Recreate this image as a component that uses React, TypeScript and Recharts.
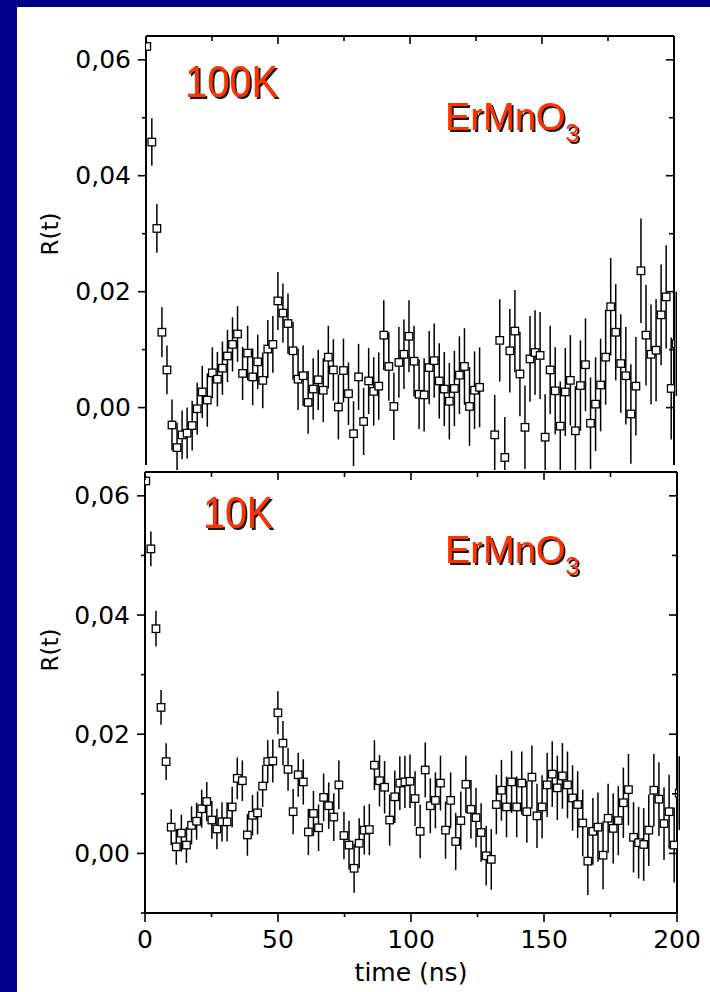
import React from 'react'
import { ScatterChart, Scatter, XAxis, YAxis, ErrorBar } from 'recharts'

// time bins (ns)
const timeNs = [
  0.3, 2.21, 4.12, 6.03, 7.94, 9.85, 11.76, 13.67, 15.58, 17.49,
  19.4, 21.31, 23.22, 25.13, 27.04, 28.95, 30.86, 32.77, 34.68, 36.59,
  38.5, 40.41, 42.32, 44.23, 46.14, 48.05, 49.96, 51.87, 53.78, 55.69,
  57.6, 59.51, 61.42, 63.33, 65.24, 67.15, 69.06, 70.97, 72.88, 74.79,
  76.7, 78.61, 80.52, 82.43, 84.34, 86.25, 88.16, 90.07, 91.98, 93.89,
  95.8, 97.71, 99.62, 101.53, 103.44, 105.35, 107.26, 109.17, 111.08, 112.99,
  114.9, 116.81, 118.72, 120.63, 122.54, 124.45, 126.36, 128.27, 130.18, 132.09,
  134.0, 135.91, 137.82, 139.73, 141.64, 143.55, 145.46, 147.37, 149.28, 151.19,
  153.1, 155.01, 156.92, 158.83, 160.74, 162.65, 164.56, 166.47, 168.38, 170.29,
  172.2, 174.11, 176.02, 177.93, 179.84, 181.75, 183.66, 185.57, 187.48, 189.39,
  191.3, 193.21, 195.12, 197.03, 198.94, 200.85,
]

// R(t) at 100K
const r100K = [
  0.0623, 0.0458, 0.0309, 0.0130, 0.0065, -0.0030, -0.0069, -0.0047, -0.0044, -0.0031,
  -0.0002, 0.0027, 0.0013, 0.0060, 0.0049, 0.0068, 0.0089, 0.0109, 0.0127, 0.0059,
  0.0094, 0.0053, 0.0079, 0.0047, 0.0101, 0.0109, 0.0184, 0.0163, 0.0145, 0.0098,
  0.0049, 0.0055, 0.0009, 0.0032, 0.0048, 0.0030, 0.0087, 0.0065, 0.0001, 0.0064,
  0.0024, -0.0045, 0.0053, -0.0024, 0.0046, 0.0028, 0.0037, 0.0125, 0.0071, 0.0002,
  0.0078, 0.0092, 0.0123, 0.0080, 0.0023, 0.0022, 0.0069, 0.0081, 0.0046, 0.0032,
  0.0011, 0.0033, 0.0056, 0.0071, 0.0002, 0.0030, 0.0035, -0.0190, -0.0180, -0.0047,
  0.0116, -0.0086, 0.0098, 0.0132, 0.0058, -0.0034, 0.0084, 0.0095, 0.0090, -0.0051,
  0.0065, 0.0029, -0.0032, 0.0027, 0.0047, -0.0040, 0.0038, 0.0074, -0.0027, 0.0006,
  0.0039, 0.0087, 0.0174, 0.0130, 0.0076, 0.0055, -0.0011, 0.0037, 0.0236, 0.0125,
  0.0092, 0.0099, 0.0160, 0.0191, 0.0033, 0.0110,
]
const err100K = [
  0.0008, 0.0041, 0.0042, 0.0043, 0.0042, 0.0044, 0.0043, 0.0042, 0.0044, 0.0043,
  0.0045, 0.0045, 0.0046, 0.0044, 0.0047, 0.0046, 0.0045, 0.0047, 0.0048, 0.0046,
  0.0047, 0.0049, 0.0047, 0.0048, 0.0050, 0.0049, 0.0050, 0.0051, 0.0052, 0.0050,
  0.0053, 0.0052, 0.0054, 0.0053, 0.0052, 0.0055, 0.0054, 0.0053, 0.0056, 0.0055,
  0.0054, 0.0056, 0.0057, 0.0058, 0.0057, 0.0059, 0.0058, 0.0060, 0.0059, 0.0058,
  0.0061, 0.0060, 0.0062, 0.0061, 0.0060, 0.0063, 0.0063, 0.0064, 0.0065, 0.0064,
  0.0066, 0.0065, 0.0067, 0.0066, 0.0068, 0.0067, 0.0069, 0.0068, 0.0070, 0.0069,
  0.0071, 0.0070, 0.0072, 0.0071, 0.0073, 0.0072, 0.0074, 0.0073, 0.0075, 0.0074,
  0.0076, 0.0075, 0.0077, 0.0076, 0.0078, 0.0077, 0.0078, 0.0080, 0.0079, 0.0081,
  0.0080, 0.0082, 0.0084, 0.0083, 0.0085, 0.0084, 0.0086, 0.0085, 0.0090, 0.0087,
  0.0086, 0.0088, 0.0087, 0.0089, 0.0088, 0.0090,
]

// R(t) at 10K
const r10K = [
  0.0625, 0.0511, 0.0377, 0.0245, 0.0154, 0.0044, 0.0011, 0.0034, 0.0014, 0.0047,
  0.0054, 0.0075, 0.0087, 0.0056, 0.0041, 0.0053, 0.0053, 0.0078, 0.0126, 0.0122,
  0.0031, 0.0064, 0.0068, 0.0113, 0.0154, 0.0155, 0.0236, 0.0185, 0.0141, 0.0070,
  0.0132, 0.0120, 0.0036, 0.0067, 0.0043, 0.0094, 0.0080, 0.0061, 0.0115, 0.0030,
  0.0014, -0.0025, 0.0017, 0.0039, 0.0040, 0.0148, 0.0122, 0.0111, 0.0056, 0.0095,
  0.0118, 0.0120, 0.0121, 0.0092, 0.0037, 0.0140, 0.0080, 0.0089, 0.0118, 0.0039,
  0.0089, 0.0020, 0.0055, 0.0116, 0.0074, 0.0060, 0.0035, -0.0004, -0.0010, 0.0082,
  0.0106, 0.0078, 0.0120, 0.0078, 0.0118, 0.0070, 0.0128, 0.0063, 0.0078, 0.0115,
  0.0133, 0.0110, 0.0130, 0.0115, 0.0093, 0.0082, 0.0051, -0.0013, 0.0037, 0.0044,
  -0.0003, 0.0059, 0.0042, 0.0055, 0.0085, 0.0107, 0.0027, 0.0018, 0.0015, 0.0039,
  0.0106, 0.0091, 0.0050, 0.0070, 0.0014, 0.0101,
]
const err10K = [
  0.0006, 0.0029, 0.0030, 0.0029, 0.0031, 0.0030, 0.0030, 0.0031, 0.0030, 0.0032,
  0.0031, 0.0032, 0.0033, 0.0032, 0.0034, 0.0033, 0.0033, 0.0034, 0.0035, 0.0034,
  0.0035, 0.0034, 0.0036, 0.0035, 0.0036, 0.0036, 0.0036, 0.0037, 0.0036, 0.0038,
  0.0037, 0.0038, 0.0039, 0.0038, 0.0039, 0.0040, 0.0039, 0.0040, 0.0041, 0.0040,
  0.0041, 0.0041, 0.0042, 0.0041, 0.0043, 0.0042, 0.0043, 0.0044, 0.0043, 0.0044,
  0.0045, 0.0044, 0.0045, 0.0046, 0.0045, 0.0046, 0.0046, 0.0047, 0.0046, 0.0048,
  0.0047, 0.0048, 0.0049, 0.0048, 0.0049, 0.0050, 0.0049, 0.0050, 0.0051, 0.0050,
  0.0051, 0.0051, 0.0052, 0.0051, 0.0053, 0.0052, 0.0053, 0.0054, 0.0053, 0.0054,
  0.0055, 0.0054, 0.0055, 0.0056, 0.0055, 0.0056, 0.0056, 0.0057, 0.0056, 0.0058,
  0.0057, 0.0058, 0.0059, 0.0058, 0.0059, 0.0060, 0.0059, 0.0060, 0.0061, 0.0060,
  0.0061, 0.0062, 0.0061, 0.0062, 0.0063, 0.0062,
]

const xTicks = [0, 25, 50, 75, 100, 125, 150, 175, 200]
const yTicksTop = [0, 0.01, 0.02, 0.03, 0.04, 0.05, 0.06]
const yTicksBottom = [-0.01, 0, 0.01, 0.02, 0.03, 0.04, 0.05, 0.06]

const data100K = timeNs.map((t, i) => ({ t, v: r100K[i], err: err100K[i] }))
const data10K = timeNs.map((t, i) => ({ t, v: r10K[i], err: err10K[i] }))

const FONT = 'DejaVu Sans, Verdana, sans-serif'
const TAG_FONT = 'Liberation Sans, Arial, sans-serif'
const LABEL_RED = '#ff3300'

const fmtComma = (v: number) => v.toFixed(2).replace('.', ',')
const isMajorY = (v: number) => Math.abs(Math.round(v * 100)) % 2 === 0
const isMajorX = (v: number) => v % 50 === 0

// eslint-disable-next-line @typescript-eslint/no-explicit-any
function LeftTick({ x, y, payload }: any) {
  const major = isMajorY(payload.value)
  return (
    <g>
      <line x1={x} x2={x - (major ? 8 : 4)} y1={y} y2={y} stroke="#000" strokeWidth={1.6} />
      {major && (
        <text x={x - 15} y={y} textAnchor="end" dominantBaseline="central" fontSize={25} fontFamily={FONT} fill="#000">
          {fmtComma(payload.value)}
        </text>
      )}
    </g>
  )
}

// eslint-disable-next-line @typescript-eslint/no-explicit-any
function RightTick({ x, y, payload }: any) {
  const major = isMajorY(payload.value)
  return <line x1={x} x2={x - (major ? 8 : 5)} y1={y} y2={y} stroke="#000" strokeWidth={1.6} />
}

// eslint-disable-next-line @typescript-eslint/no-explicit-any
function TopTick({ x, y, payload }: any) {
  const major = isMajorX(payload.value)
  return <line x1={x} x2={x} y1={y} y2={y + (major ? 8 : 5)} stroke="#000" strokeWidth={1.6} />
}

// eslint-disable-next-line @typescript-eslint/no-explicit-any
function BottomTick({ x, y, payload }: any) {
  const major = isMajorX(payload.value)
  return (
    <g>
      <line x1={x} x2={x} y1={y} y2={y + (major ? 9 : 4)} stroke="#000" strokeWidth={1.6} />
      {major && (
        <text x={x} y={y + 26} textAnchor="middle" dominantBaseline="central" fontSize={25} fontFamily={FONT} fill="#000">
          {payload.value}
        </text>
      )}
    </g>
  )
}

// eslint-disable-next-line @typescript-eslint/no-explicit-any
function SquareMarker({ cx, cy }: any) {
  if (cx == null || cy == null) return null
  return <rect x={cx - 3.75} y={cy - 3.75} width={7.5} height={7.5} fill="#fff" stroke="#000" strokeWidth={1.3} />
}

const axisLine = { stroke: '#000', strokeWidth: 2 }

function Panel({
  data,
  yDomain,
  yTicks,
  height,
  margin,
  yAxisWidth,
  showBottom,
  bottomHeight,
}: {
  data: { t: number; v: number; err: number }[]
  yDomain: [number, number]
  yTicks: number[]
  height: number
  margin: { top: number; right: number; bottom: number; left: number }
  yAxisWidth: number
  showBottom: boolean
  bottomHeight: number
}) {
  return (
    <ScatterChart width={710} height={height} margin={margin}>
      <XAxis
        xAxisId="bottom"
        dataKey="t"
        type="number"
        domain={[0, 200]}
        allowDataOverflow
        ticks={xTicks}
        interval={0}
        hide={!showBottom}
        height={bottomHeight}
        axisLine={axisLine}
        tickLine={false}
        tickSize={0}
        tickMargin={0}
        tick={<BottomTick />}
      />
      <XAxis
        xAxisId="top"
        orientation="top"
        dataKey="t"
        type="number"
        domain={[0, 200]}
        allowDataOverflow
        ticks={xTicks}
        interval={0}
        height={1}
        axisLine={axisLine}
        tickLine={false}
        tickSize={0}
        tickMargin={0}
        tick={<TopTick />}
      />
      <YAxis
        yAxisId="left"
        dataKey="v"
        type="number"
        domain={yDomain}
        allowDataOverflow
        ticks={yTicks}
        interval={0}
        width={yAxisWidth}
        axisLine={axisLine}
        tickLine={false}
        tickSize={0}
        tickMargin={0}
        tick={<LeftTick />}
      />
      <YAxis
        yAxisId="right"
        orientation="right"
        dataKey="v"
        type="number"
        domain={yDomain}
        allowDataOverflow
        ticks={yTicks}
        interval={0}
        width={10}
        axisLine={axisLine}
        tickLine={false}
        tickSize={0}
        tickMargin={0}
        tick={<RightTick />}
      />
      <Scatter
        data={data}
        xAxisId="bottom"
        yAxisId="left"
        dataKey="v"
        shape={<SquareMarker />}
        isAnimationActive={false}
      >
        <ErrorBar dataKey="err" direction="y" width={0} stroke="#000" strokeWidth={1.5} isAnimationActive={false} />
      </Scatter>
    </ScatterChart>
  )
}

function PanelTag({ x, y, text, len }: { x: number; y: number; text: string; len: number }) {
  return (
    <text
      x={x}
      y={y}
      fill={LABEL_RED}
      fontSize={44}
      fontFamily={TAG_FONT}
      textLength={len}
      lengthAdjust="spacingAndGlyphs"
      filter="url(#tagShadow)"
    >
      {text}
    </text>
  )
}

function Formula({ x, y }: { x: number; y: number }) {
  return (
    <text x={x} y={y} fill={LABEL_RED} fontSize={38} fontFamily={TAG_FONT} filter="url(#tagShadow)">
      ErMnO
      <tspan fontSize={25} dy={12}>3</tspan>
    </text>
  )
}

export default function App() {
  return (
    <div style={{ position: 'absolute', left: 0, top: 0, width: 710, height: 992, background: '#00008b', overflow: 'hidden' }}>
      <div style={{ position: 'absolute', left: 17, top: 7, right: 0, bottom: 0, background: '#fff' }} />
      <div style={{ position: 'absolute', left: 0, top: 0 }}>
        <Panel
          data={data100K}
          yDomain={[-0.0099, 0.0641]}
          yTicks={yTicksTop}
          height={470}
          margin={{ top: 35, right: 26, bottom: 5, left: 0 }}
          yAxisWidth={146}
          showBottom={false}
          bottomHeight={0}
        />
      </div>
      <div style={{ position: 'absolute', left: 0, top: 470 }}>
        <Panel
          data={data10K}
          yDomain={[-0.01, 0.064]}
          yTicks={yTicksBottom}
          height={522}
          margin={{ top: 1, right: 23, bottom: 0, left: 0 }}
          yAxisWidth={145}
          showBottom
          bottomHeight={79}
        />
      </div>
      <svg width={710} height={992} style={{ position: 'absolute', left: 0, top: 0, pointerEvents: 'none' }}>
        <defs>
          <filter id="tagShadow" x="-10%" y="-10%" width="130%" height="140%">
            <feDropShadow dx={2} dy={2} stdDeviation={0.4} floodColor="#000" floodOpacity={0.9} />
          </filter>
        </defs>
        <text x={50} y={234} transform="rotate(-90 50 234)" textAnchor="middle" dominantBaseline="central" fontSize={23} fontFamily={FONT} fill="#000">
          R(t)
        </text>
        <text x={50} y={650} transform="rotate(-90 50 650)" textAnchor="middle" dominantBaseline="central" fontSize={23} fontFamily={FONT} fill="#000">
          R(t)
        </text>
        <text x={411} y={972} textAnchor="middle" dominantBaseline="central" fontSize={25} fontFamily={FONT} fill="#000">
          time (ns)
        </text>
        <PanelTag x={185} y={97} text="100K" len={93} />
        <Formula x={445} y={130} />
        <PanelTag x={203} y={528} text="10K" len={70} />
        <Formula x={445} y={563} />
      </svg>
    </div>
  )
}
